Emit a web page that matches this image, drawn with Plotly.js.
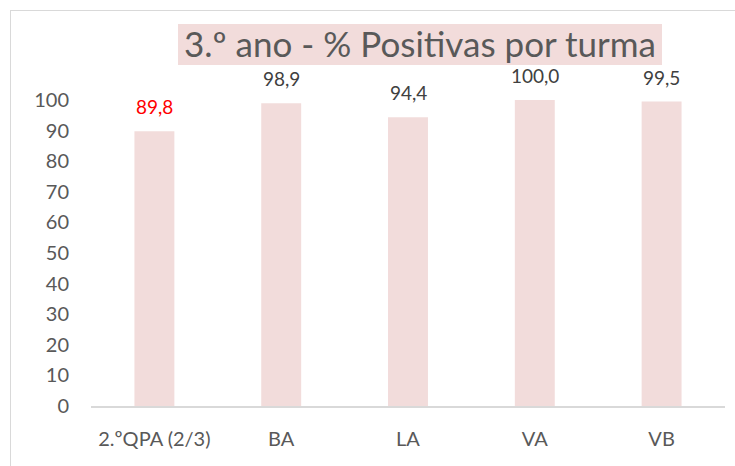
<!DOCTYPE html>
<html>
<head>
<meta charset="utf-8">
<script src="https://cdn.plot.ly/plotly-3.0.1.min.js"></script>
<style>
  html, body { margin: 0; padding: 0; background: #fff; }
  #wrap { position: relative; width: 735px; height: 466px; overflow: hidden; }
  #chart { width: 735px; height: 466px; }
  #frame { position: absolute; left: 10px; top: 10px; width: 740px; height: 470px;
           border-left: 1.5px solid #D9D9D9; border-top: 1.5px solid #D9D9D9; pointer-events: none; }
</style>
</head>
<body>
<div id="wrap">
  <div id="chart"></div>
  <div id="frame"></div>
</div>
<script>
const categories = ['2.ºQPA (2/3)', 'BA', 'LA', 'VA', 'VB'];
const values = [89.8, 98.9, 94.4, 100.0, 99.5];
const labelColors = ['#FF0000', '#404040', '#404040', '#404040', '#404040'];
const yTicks = [0, 10, 20, 30, 40, 50, 60, 70, 80, 90, 100];
const titleText = '3.º ano - % Positivas por turma';

const FONT = 'Lato, "Open Sans", sans-serif';

const trace = {
  type: 'bar',
  x: categories,
  y: values,
  marker: { color: '#F2DCDB' },
  hoverinfo: 'skip'
};

const annotations = categories.map((c, i) => ({
  x: c, y: values[i], xref: 'x', yref: 'y',
  text: values[i].toFixed(1).replace('.', ','),
  showarrow: false, yanchor: 'bottom', yshift: 11,
  font: { family: FONT, size: 19, color: labelColors[i] }
}));

const layout = {
  width: 735, height: 466,
  margin: { l: 91, r: 10, t: 100, b: 60 },
  paper_bgcolor: '#ffffff', plot_bgcolor: '#ffffff',
  bargap: 0.685,
  showlegend: false,
  title: {
    text: titleText,
    x: 420 / 735, xanchor: 'center', xref: 'container',
    y: 1 - 45 / 466, yanchor: 'middle', yref: 'container',
    font: { family: FONT, size: 35, color: '#595959' }
  },
  shapes: [{
    type: 'rect', xref: 'paper', yref: 'paper',
    x0: 0.1372, x1: 0.9006, y0: 1.1144, y1: 1.2484,
    fillcolor: '#F2DCDB', line: { width: 0 }, layer: 'below'
  }],
  xaxis: {
    type: 'category',
    showgrid: false, zeroline: false,
    showline: true, linecolor: '#D9D9D9', linewidth: 1.5,
    ticks: '', ticklen: 0,
    ticklabelstandoff: 14,
    tickfont: { family: FONT, size: 20, color: '#595959' },
    fixedrange: true
  },
  yaxis: {
    range: [0, 100],
    tickvals: yTicks,
    ticktext: yTicks.map(String),
    showgrid: false, zeroline: false, showline: false,
    ticks: '',
    ticklabelstandoff: 21,
    tickfont: { family: FONT, size: 20, color: '#595959' },
    fixedrange: true
  },
  annotations: annotations
};

Plotly.newPlot('chart', [trace], layout, { displayModeBar: false, staticPlot: true });
</script>
</body>
</html>
